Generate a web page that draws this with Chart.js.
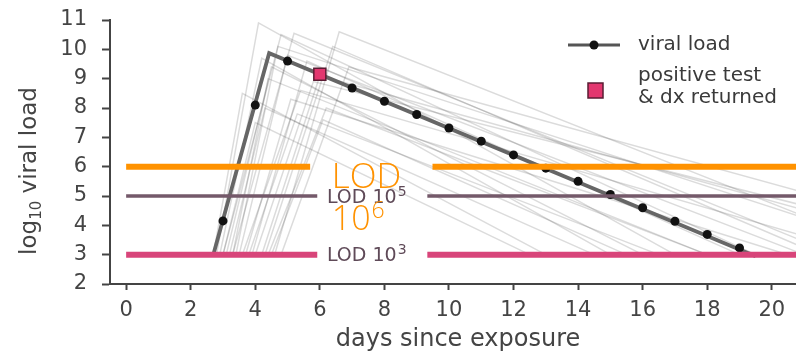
<!DOCTYPE html>
<html><head><meta charset="utf-8">
<script src="https://cdn.jsdelivr.net/npm/chart.js@4.4.1/dist/chart.umd.min.js"></script>
<style>html,body{margin:0;padding:0;background:#fff;}</style>
</head><body>
<canvas id="c" width="796" height="353"></canvas>
<script>
// ---- data ----
const xTickValues = [0, 2, 4, 6, 8, 10, 12, 14, 16, 18, 20];
const yTickValues = [2, 3, 4, 5, 6, 7, 8, 9, 10, 11];

// main viral-load trajectory (start, peak, end at LOD 10^3)
const mainLineDays = [2.7, 4.43, 19.5];
const mainLineLoads = [3.0, 9.87, 2.95];
// daily measurements (dots)
const dotDays = [3, 4, 5, 7, 8, 9, 10, 11, 12, 13, 14, 15, 16, 17, 18, 19];
const dotLoads = [4.15, 8.1, 9.6, 8.68, 8.23, 7.78, 7.32, 6.87, 6.4, 5.95, 5.5, 5.05, 4.6, 4.14, 3.69, 3.23];
// positive test & dx returned
const testDay = [6];
const testLoad = [9.15];

// other simulated trajectories: start day, peak day, peak load, day back at 10^3
const bgStart = [2.8, 3.3, 4.6, 3.0, 2.7, 3.1, 3.5, 3.2, 3.9, 3.6, 4.2, 3.0, 4.4, 3.4, 3.8, 4.8, 3.3, 4.0, 2.9, 4.3, 3.7, 4.5];
const bgPeakDay = [4.1, 5.2, 6.6, 4.8, 3.6, 4.5, 5.0, 4.3, 5.6, 5.4, 6.0, 4.0, 6.2, 4.7, 5.3, 6.9, 4.4, 5.8, 4.2, 6.4, 5.1, 6.1];
const bgPeakLoad = [10.9, 10.55, 10.6, 10.5, 8.5, 9.4, 9.8, 8.0, 9.6, 8.6, 9.1, 7.5, 8.0, 10.1, 7.8, 9.4, 9.0, 8.9, 9.7, 10.1, 8.3, 7.6];
const bgEnd = [17.0, 22.0, 24.0, 19.5, 13.0, 16.0, 21.0, 14.5, 19.0, 23.0, 26.0, 12.5, 18.0, 24.5, 16.5, 28.0, 18.0, 27.0, 15.0, 21.5, 20.5, 15.5];
const bgBase = 3;

// limits of detection
const lodLevels = [6, 5, 3];
const lodLabels = ['LOD 10', 'LOD 10', 'LOD 10'];
const lodExp = ['6', '5', '3'];
// visible segments of each LOD line [from, to], [from, to]
const lodLeft = [[0, 5.7], [0, 5.92], [0, 5.92]];
const lodRight = [[9.49, 21], [9.33, 21], [9.33, 21]];

// ---- styles ----
const lodColors = ['#ff9200', '#74596a', '#d8457a'];
const lodWidths = [6, 3.5, 6];
const pinkFill = '#e2376f';

const datasets = [];
for (let i = 0; i < bgStart.length; i++) {
  datasets.push({
    type: 'line', order: 10,
    data: [{x: bgStart[i], y: bgBase}, {x: bgPeakDay[i], y: bgPeakLoad[i]}, {x: bgEnd[i], y: bgBase}],
    borderColor: 'rgba(0,0,0,0.14)', borderWidth: 1.5, pointRadius: 0, tension: 0
  });
}
datasets.push({
  type: 'line', order: 5,
  data: mainLineDays.map((d, i) => ({x: d, y: mainLineLoads[i]})),
  borderColor: '#666', borderWidth: 3.8, pointRadius: 0, tension: 0
});
datasets.push({
  type: 'line', order: 4, showLine: false,
  data: dotDays.map((d, i) => ({x: d, y: dotLoads[i]})),
  pointRadius: 4.5, pointBackgroundColor: '#111', pointBorderWidth: 0
});
lodLevels.forEach((lv, i) => {
  datasets.push({
    type: 'line', order: 2, spanGaps: false,
    data: [{x: lodLeft[i][0], y: lv}, {x: lodLeft[i][1], y: lv}, {x: (lodLeft[i][1] + lodRight[i][0]) / 2, y: null},
           {x: lodRight[i][0], y: lv}, {x: lodRight[i][1], y: lv}],
    borderColor: lodColors[i], borderWidth: lodWidths[i], pointRadius: 0, borderCapStyle: 'butt'
  });
});
datasets.push({
  type: 'line', order: 0, showLine: false,
  data: testDay.map((d, i) => ({x: d, y: testLoad[i]})),
  pointStyle: 'rect', pointRadius: 8.5, pointBackgroundColor: pinkFill, pointBorderColor: '#5a1c33', pointBorderWidth: 1.5
});

function supText(ctx, base, sup, x, y, font, supFont, rise) {
  ctx.font = font;
  ctx.fillText(base, x, y);
  const w = ctx.measureText(base).width;
  ctx.font = supFont;
  ctx.fillText(sup, x + w + 1, y - rise);
}

const decor = {
  id: 'decor',
  afterDatasetsDraw(chart) {
    const ctx = chart.ctx, xs = chart.scales.x, ys = chart.scales.y;
    ctx.save();
    ctx.textAlign = 'left';
    ctx.textBaseline = 'alphabetic';
    // LOD labels 10^5 and 10^3
    [1, 2].forEach(i => {
      ctx.fillStyle = '#5f4a58';
      const px = xs.getPixelForValue(6.22), py = ys.getPixelForValue(lodLevels[i]) + 6.5;
      supText(ctx, lodLabels[i], lodExp[i], px, py, '19px "DejaVu Sans"', '14px "DejaVu Sans"', 7);
    });
    // large orange LOD 10^6 label
    ctx.fillStyle = '#ff9200';
    const ox = xs.getPixelForValue(6.37), oy = ys.getPixelForValue(lodLevels[0]);
    ctx.font = '300 35px "Open Sans"';
    ctx.fillText('LOD', ox, oy + 21);
    supText(ctx, '10', lodExp[0], ox, oy + 63, '300 34px "Open Sans"', '300 23px "Open Sans"', 12);

    // legend
    ctx.strokeStyle = '#555'; ctx.lineWidth = 3;
    ctx.beginPath(); ctx.moveTo(568, 45); ctx.lineTo(620, 45); ctx.stroke();
    ctx.fillStyle = '#111';
    ctx.beginPath(); ctx.arc(594, 45, 4.5, 0, Math.PI * 2); ctx.fill();
    ctx.fillStyle = pinkFill; ctx.strokeStyle = '#5a1c33'; ctx.lineWidth = 1.5;
    ctx.fillRect(588, 83, 15, 15); ctx.strokeRect(588, 83, 15, 15);
    ctx.fillStyle = '#3a3a3a';
    ctx.font = '20px "DejaVu Sans"';
    ctx.textBaseline = 'middle';
    ctx.fillText('viral load', 638, 45);
    ctx.fillText('positive test', 638, 76);
    ctx.fillText('& dx returned', 638, 98);

    // axis titles
    ctx.textBaseline = 'alphabetic';
    ctx.fillStyle = '#444';
    ctx.font = '24px "DejaVu Sans"';
    ctx.textAlign = 'center';
    ctx.fillText('days since exposure', 458, 346);
    ctx.textAlign = 'left';
    ctx.translate(36, 171);
    ctx.rotate(-Math.PI / 2);
    ctx.font = '23px "DejaVu Sans"';
    const p1 = 'log', p3 = ' viral load';
    const w1 = ctx.measureText(p1).width, w3 = ctx.measureText(p3).width;
    ctx.font = '15px "DejaVu Sans"';
    const w2 = ctx.measureText('10').width;
    let sx = -(w1 + w2 + w3) / 2;
    ctx.font = '23px "DejaVu Sans"';
    ctx.fillText(p1, sx, 0);
    ctx.font = '15px "DejaVu Sans"';
    ctx.fillText('10', sx + w1, 5);
    ctx.font = '23px "DejaVu Sans"';
    ctx.fillText(p3, sx + w1 + w2, 0);
    ctx.restore();
  }
};

new Chart(document.getElementById('c'), {
  data: {datasets},
  plugins: [decor],
  options: {
    responsive: false, animation: false, devicePixelRatio: 1,
    layout: {autoPadding: false, padding: {top: 20, right: 0, left: 0, bottom: 0}},
    plugins: {legend: {display: false}, tooltip: {enabled: false}},
    scales: {
      x: {
        type: 'linear', min: -0.5, max: 20.75,
        afterBuildTicks: s => { s.ticks = xTickValues.map(v => ({value: v})); },
        afterFit: s => { s.height = 69; s.paddingLeft = 0; s.paddingRight = 0; },
        grid: {drawOnChartArea: false, tickLength: 6, tickWidth: 2, tickColor: '#444'},
        border: {color: '#444', width: 2},
        ticks: {font: {family: 'DejaVu Sans', size: 21}, color: '#444', padding: 8, maxRotation: 0, autoSkip: false}
      },
      y: {
        type: 'linear', min: 2, max: 11,
        afterBuildTicks: s => { s.ticks = yTickValues.map(v => ({value: v})); },
        afterFit: s => { s.width = 110; s.paddingTop = 0; s.paddingBottom = 0; },
        grid: {drawOnChartArea: false, tickLength: 8, tickWidth: 2, tickColor: '#444'},
        border: {color: '#444', width: 2},
        ticks: {font: {family: 'DejaVu Sans', size: 21}, color: '#444', padding: 15}
      }
    }
  }
});
</script>
</body></html>
